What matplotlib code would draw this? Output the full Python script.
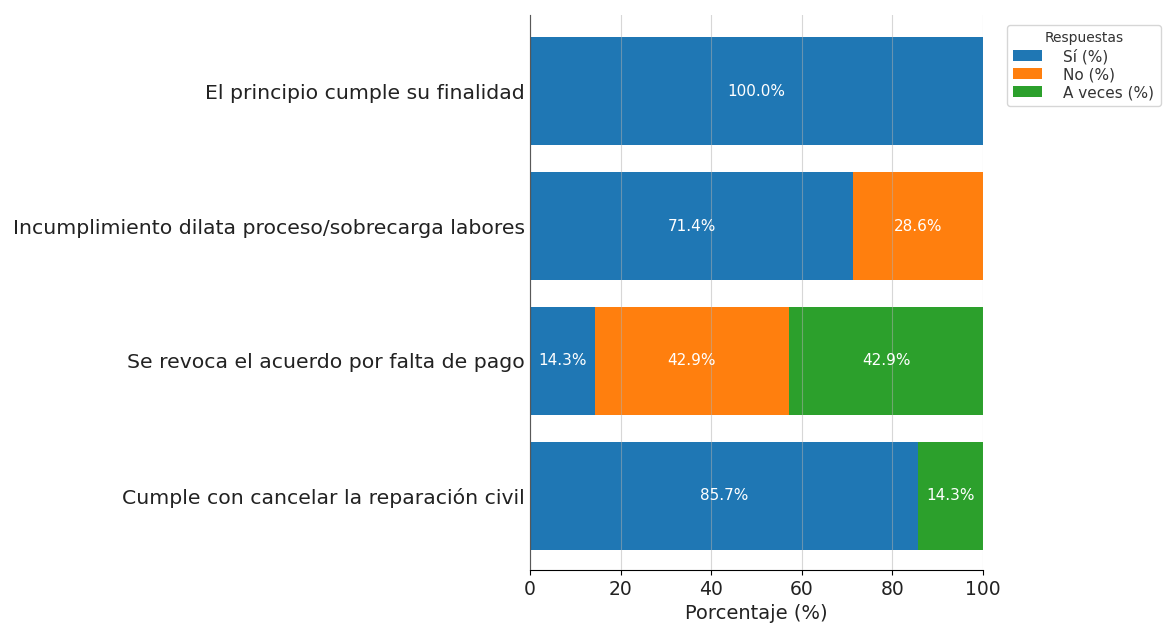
import matplotlib.pyplot as plt
import numpy as np

preguntas = [
    "Cumple con cancelar la reparación civil",
    "Se revoca el acuerdo por falta de pago",
    "Incumplimiento dilata proceso/sobrecarga labores",
    "El principio cumple su finalidad",
]
si = [85.7, 14.3, 71.4, 100.0]
no = [0.0, 42.9, 28.6, 0.0]
a_veces = [14.3, 42.9, 0.0, 0.0]

series = [("Sí (%)", si, "#1f77b4"), ("No (%)", no, "#ff7f0e"), ("A veces (%)", a_veces, "#2ca02c")]

fig = plt.figure(figsize=(11.68, 6.23), dpi=100)
ax = fig.add_axes([0.4538, 0.085, 0.3878, 0.891])

y = np.arange(len(preguntas))
left = np.zeros(len(preguntas))
for nombre, vals, color in series:
    vals = np.array(vals)
    bars = ax.barh(y, vals, left=left, color=color, height=0.8, label=nombre, zorder=2)
    for b, v in zip(bars, vals):
        if v > 0:
            ax.text(b.get_x() + b.get_width() / 2, b.get_y() + b.get_height() / 2,
                    f"{v:.1f}%", ha="center", va="center", color="white", fontsize=11, zorder=4)
    left += vals

ax.set_yticks(y)
ax.set_yticklabels(preguntas, fontsize=14.7, color="#222222")
ax.set_xlim(0, 100)
ax.set_ylim(-0.55, 3.565)
ax.set_xticks([0, 20, 40, 60, 80, 100])
ax.tick_params(axis="x", labelsize=13.5, labelcolor="#222222")
ax.tick_params(axis="y", length=0)
ax.set_xlabel("Porcentaje (%)", fontsize=14, color="#222222")
ax.grid(axis="x", color="#b0b0b0", alpha=0.5, zorder=3)
ax.set_axisbelow(False)
ax.spines["top"].set_visible(False)
ax.spines["right"].set_visible(False)
leg = ax.legend(title="Respuestas", bbox_to_anchor=(1.036, 0.995), loc="upper left",
                fontsize=11, title_fontsize=10, labelspacing=0.2, handlelength=1.9,
                handletextpad=1.4)
for t in leg.get_texts():
    t.set_color("#333333")
leg.get_title().set_color("#333333")

fig.savefig("out.png", dpi=100)
